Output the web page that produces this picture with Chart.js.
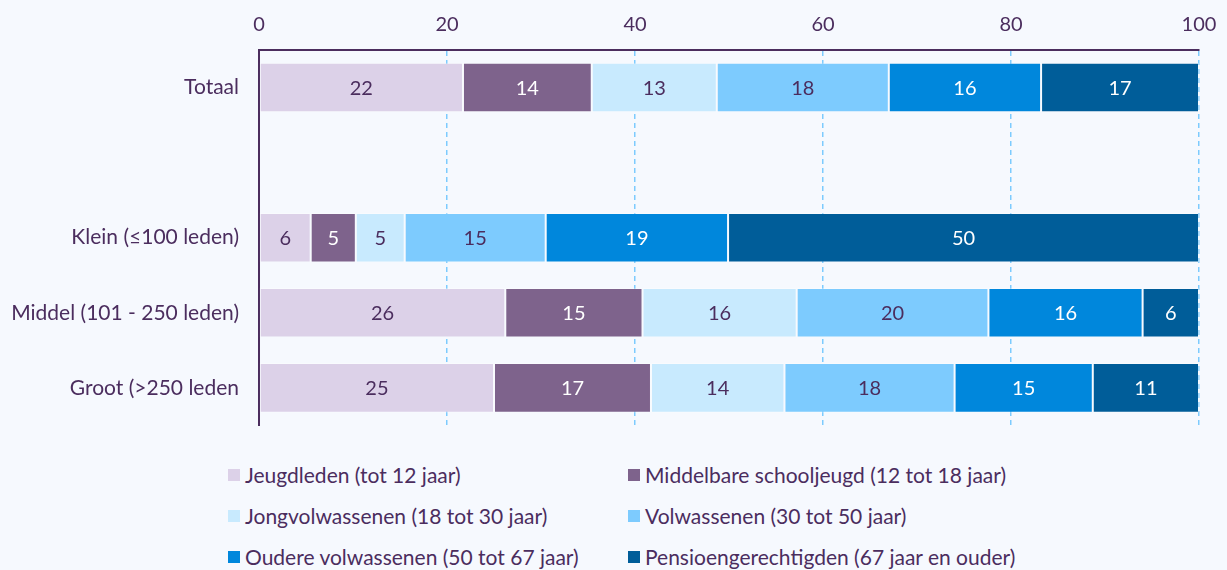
<!DOCTYPE html>
<html>
<head>
<meta charset="utf-8">
<script src="https://cdn.jsdelivr.net/npm/chart.js@4.4.1/dist/chart.umd.min.js"></script>
<style>
    html, body { margin: 0; padding: 0; background: #f6f9fe; }
    body { width: 1227px; height: 570px; position: relative; overflow: hidden; font-family: Lato, sans-serif; color: #4b2d5e; }
    #wrap { position: absolute; left: 0; top: 0; width: 1227px; height: 458px; }
    #legend { position: absolute; left: 228px; top: 462px; display: grid; grid-template-columns: 400px 400px; row-gap: 16px; font-size: 21px; line-height: 25px; }
    .item { display: flex; align-items: center; white-space: nowrap; }
    .box { width: 12px; height: 12px; margin-right: 5px; flex: none; }
</style>
</head>
<body>
<div id="wrap"><canvas id="chart"></canvas></div>
<div id="legend"></div>
<script>
const categories = ['Totaal', '', 'Klein (\u2264100 leden)', 'Middel (101 - 250 leden)', 'Groot (>250 leden'];
const xTicks = [0, 20, 40, 60, 80, 100];

const seriesNames = [
    'Jeugdleden (tot 12 jaar)',
    'Middelbare schooljeugd (12 tot 18 jaar)',
    'Jongvolwassenen (18 tot 30 jaar)',
    'Volwassenen (30 tot 50 jaar)',
    'Oudere volwassenen (50 tot 67 jaar)',
    'Pensioengerechtigden (67 jaar en ouder)'
];
const jeugdleden = [21.7, null, 5.5, 26.2, 25.0];
const middelbaar = [13.7, null, 4.8, 14.6, 16.7];
const jongvolw = [13.3, null, 5.2, 16.4, 14.2];
const volwassenen = [18.3, null, 15.0, 20.4, 18.1];
const oudere = [16.2, null, 19.4, 16.4, 14.7];
const pensioen = [16.8, null, 50.1, 6.0, 11.3];

const colors = ['#dcd1e8', '#7e638c', '#c8eafe', '#7dcbfe', '#0087dc', '#005d99'];
const labelColors = ['#4b2d5e', '#ffffff', '#4b2d5e', '#4b2d5e', '#ffffff', '#ffffff'];
const textColor = '#4b2d5e';
const gridColor = '#7dcbfe';

const allSeries = [jeugdleden, middelbaar, jongvolw, volwassenen, oudere, pensioen];

// draws the rounded value in the middle of every segment
const barLabels = {
    id: 'barLabels',
    afterDatasetsDraw(chart) {
        const ctx = chart.ctx;
        ctx.save();
        ctx.font = '20px Lato, sans-serif';
        ctx.textAlign = 'center';
        ctx.textBaseline = 'middle';
        chart.data.datasets.forEach((ds, i) => {
            const meta = chart.getDatasetMeta(i);
            meta.data.forEach((bar, j) => {
                const v = ds.data[j];
                if (v === null || v === undefined) return;
                const p = bar.getCenterPoint();
                ctx.fillStyle = labelColors[i];
                ctx.fillText(String(Math.round(v)), p.x, p.y + 1);
            });
        });
        ctx.restore();
    }
};

Chart.defaults.font.family = 'Lato, sans-serif';
Chart.defaults.color = textColor;

new Chart(document.getElementById('chart'), {
    type: 'bar',
    data: {
        labels: categories,
        datasets: allSeries.map((data, i) => ({
            label: seriesNames[i],
            data,
            backgroundColor: colors[i],
            borderColor: 'rgba(255,255,255,0.3)',
            borderWidth: 1,
            borderSkipped: false,
            categoryPercentage: 1,
            barPercentage: 0.66
        }))
    },
    options: {
        indexAxis: 'y',
        responsive: true,
        maintainAspectRatio: false,
        animation: false,
        layout: { padding: { top: 0, right: 28, left: 0, bottom: 0 } },
        plugins: { legend: { display: false }, tooltip: { enabled: false } },
        scales: {
            x: {
                position: 'top',
                stacked: true,
                min: 0,
                max: 100,
                afterBuildTicks: axis => { axis.ticks = xTicks.map(v => ({ value: v })); },
                afterFit: axis => { axis.height = 50; axis.paddingLeft = 0; axis.paddingRight = 0; },
                ticks: { padding: 13, color: textColor, font: { size: 20 } },
                grid: {
                    drawTicks: false,
                    color: c => (c.tick && c.tick.value === 0 ? 'rgba(0,0,0,0)' : gridColor),
                    lineWidth: 1.5
                },
                border: { display: true, color: textColor, width: 2, dash: [5, 4] }
            },
            y: {
                stacked: true,
                afterFit: axis => { axis.width = 259; },
                ticks: { padding: 20, color: textColor, font: { size: 21 } },
                grid: { display: false, drawTicks: false },
                border: { display: true, color: textColor, width: 2 }
            }
        }
    },
    plugins: [barLabels]
});

const legend = document.getElementById('legend');
seriesNames.forEach((name, i) => {
    const item = document.createElement('div');
    item.className = 'item';
    const box = document.createElement('span');
    box.className = 'box';
    box.style.background = colors[i];
    const txt = document.createElement('span');
    txt.textContent = name;
    item.appendChild(box);
    item.appendChild(txt);
    legend.appendChild(item);
});
</script>
</body>
</html>
